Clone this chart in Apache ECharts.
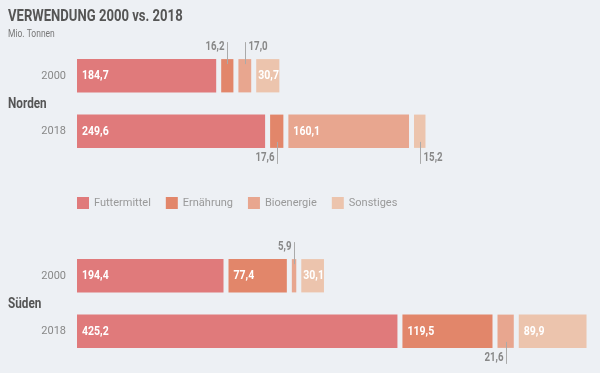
<!DOCTYPE html>
<html><head><meta charset="utf-8">
<script src="https://cdn.jsdelivr.net/npm/echarts@6/dist/echarts.min.js"></script>
<style>html,body{margin:0;padding:0;background:#edf0f4}#c{width:600px;height:373px}</style>
</head><body><div id="c"></div>
<script>
const categories = ['Futtermittel', 'Ernährung', 'Bioenergie', 'Sonstiges'];
const regions = ['Norden', 'Süden'];
const years = ['2000', '2018'];
const norden2000 = [184.7, 16.2, 17.0, 30.7];
const norden2018 = [249.6, 17.6, 160.1, 15.2];
const sueden2000 = [194.4, 77.4, 5.9, 30.1];
const sueden2018 = [425.2, 119.5, 21.6, 89.9];
// outside label placement: region, row, category, side of leader line
const outsideLabels = [
  [0, 0, 1, 'left'], [0, 0, 2, 'right'],
  [0, 1, 1, 'left'], [0, 1, 3, 'right'],
  [1, 0, 2, 'left'], [1, 1, 2, 'left']
];
const colors = ['#e07a7b', '#e2866a', '#e8a68f', '#ecc4ad'];
const FONT = "Roboto, 'Noto Sans', sans-serif";
const NARROW = 0.81;
const GAP = 5;
const regionData = [[norden2000, norden2018], [sueden2000, sueden2018]];
const fmt = v => v.toFixed(1).replace('.', ',');

function findOutside(r, row, c) {
  return outsideLabels.find(o => o[0] === r && o[1] === row && o[2] === c);
}

const series = [];
regionData.forEach((rows, r) => {
  categories.forEach((cat, c) => {
    const data = rows.map((vals, row) => {
      let start = 0;
      for (let k = 0; k < c; k++) start += vals[k];
      return [row, start, vals[c]];
    });
    series.push({
      type: 'custom', name: cat, xAxisIndex: r, yAxisIndex: r,
      itemStyle: { color: colors[c] },
      encode: { x: [1, 2], y: 0 },
      data: data,
      renderItem: function (params, api) {
        const row = api.value(0), start = api.value(1), val = api.value(2);
        const p0 = api.coord([start, row]);
        const p1 = api.coord([start + val, row]);
        const h = api.size([0, 1])[1] * 0.6;
        const x0 = p0[0] + c * GAP;
        const w = p1[0] - p0[0];
        const y0 = p0[1] - h / 2, y1 = p0[1] + h / 2;
        const children = [{
          type: 'rect', shape: { x: x0, y: y0, width: w, height: h },
          style: { fill: colors[c] }
        }];
        if (w >= 20) {
          children.push({
            type: 'text', x: x0 + (w < 30 ? 2 : 5), y: p0[1], scaleX: NARROW,
            style: { text: fmt(val), fill: '#fff', font: 'bold 13px ' + FONT, textAlign: 'left', textVerticalAlign: 'middle' }
          });
        } else {
          const o = findOutside(r, row, c);
          const cx = Math.round(x0 + w / 2) + 0.5;
          const top = row === 0;
          const la = top ? y0 - 17 : y1 - 6;
          const lb = top ? y0 + 5 : y1 + 16;
          const ty = top ? y0 - 12 : y1 + 10;
          const side = o ? o[3] : 'left';
          children.push({
            type: 'line', shape: { x1: cx, y1: la, x2: cx, y2: lb },
            style: { stroke: '#aaaaaa', lineWidth: 1 }
          });
          children.push({
            type: 'text', x: side === 'left' ? cx - 3 : cx + 3, y: ty, scaleX: NARROW,
            style: { text: fmt(val), fill: '#888', font: 'bold 12px ' + FONT, textAlign: side === 'left' ? 'right' : 'left', textVerticalAlign: 'middle' }
          });
        }
        return { type: 'group', children: children };
      }
    });
  });
});

const chart = echarts.init(document.getElementById('c'));
const grids = [{ left: 77, right: 3, top: 48, height: 111 }, { left: 77, right: 3, top: 248, height: 111 }];
const texts = [
  { type: 'text', x: 8, y: 17, scaleX: 0.77, style: { text: 'VERWENDUNG 2000 vs. 2018', font: 'bold 17px ' + FONT, fill: '#555', textVerticalAlign: 'middle' } },
  { type: 'text', x: 8, y: 34, scaleX: 0.85, style: { text: 'Mio. Tonnen', font: '10px ' + FONT, fill: '#777', textVerticalAlign: 'middle' } }
].concat(regions.map((name, i) => ({
  type: 'text', x: 8, y: i === 0 ? 104 : 304, scaleX: 0.84,
  style: { text: name, font: 'bold 14px ' + FONT, fill: '#555', textVerticalAlign: 'middle' }
})));
chart.setOption({
  backgroundColor: '#edf0f4',
  animation: false,
  legend: {
    data: categories, left: 77, top: 197, padding: 0, itemWidth: 12, itemHeight: 12, itemGap: 15,
    icon: 'rect', textStyle: { fontFamily: FONT, fontSize: 11, color: '#999' }
  },
  grid: grids,
  xAxis: grids.map((g, i) => ({ gridIndex: i, type: 'value', min: 0, max: 690, show: false })),
  yAxis: grids.map((g, i) => ({
    gridIndex: i, type: 'category', data: years, inverse: true,
    axisLine: { show: false }, axisTick: { show: false }, splitLine: { show: false },
    axisLabel: { margin: 11, color: '#888', fontSize: 11, fontFamily: FONT }
  })),
  graphic: texts,
  series: series
});
</script></body></html>
